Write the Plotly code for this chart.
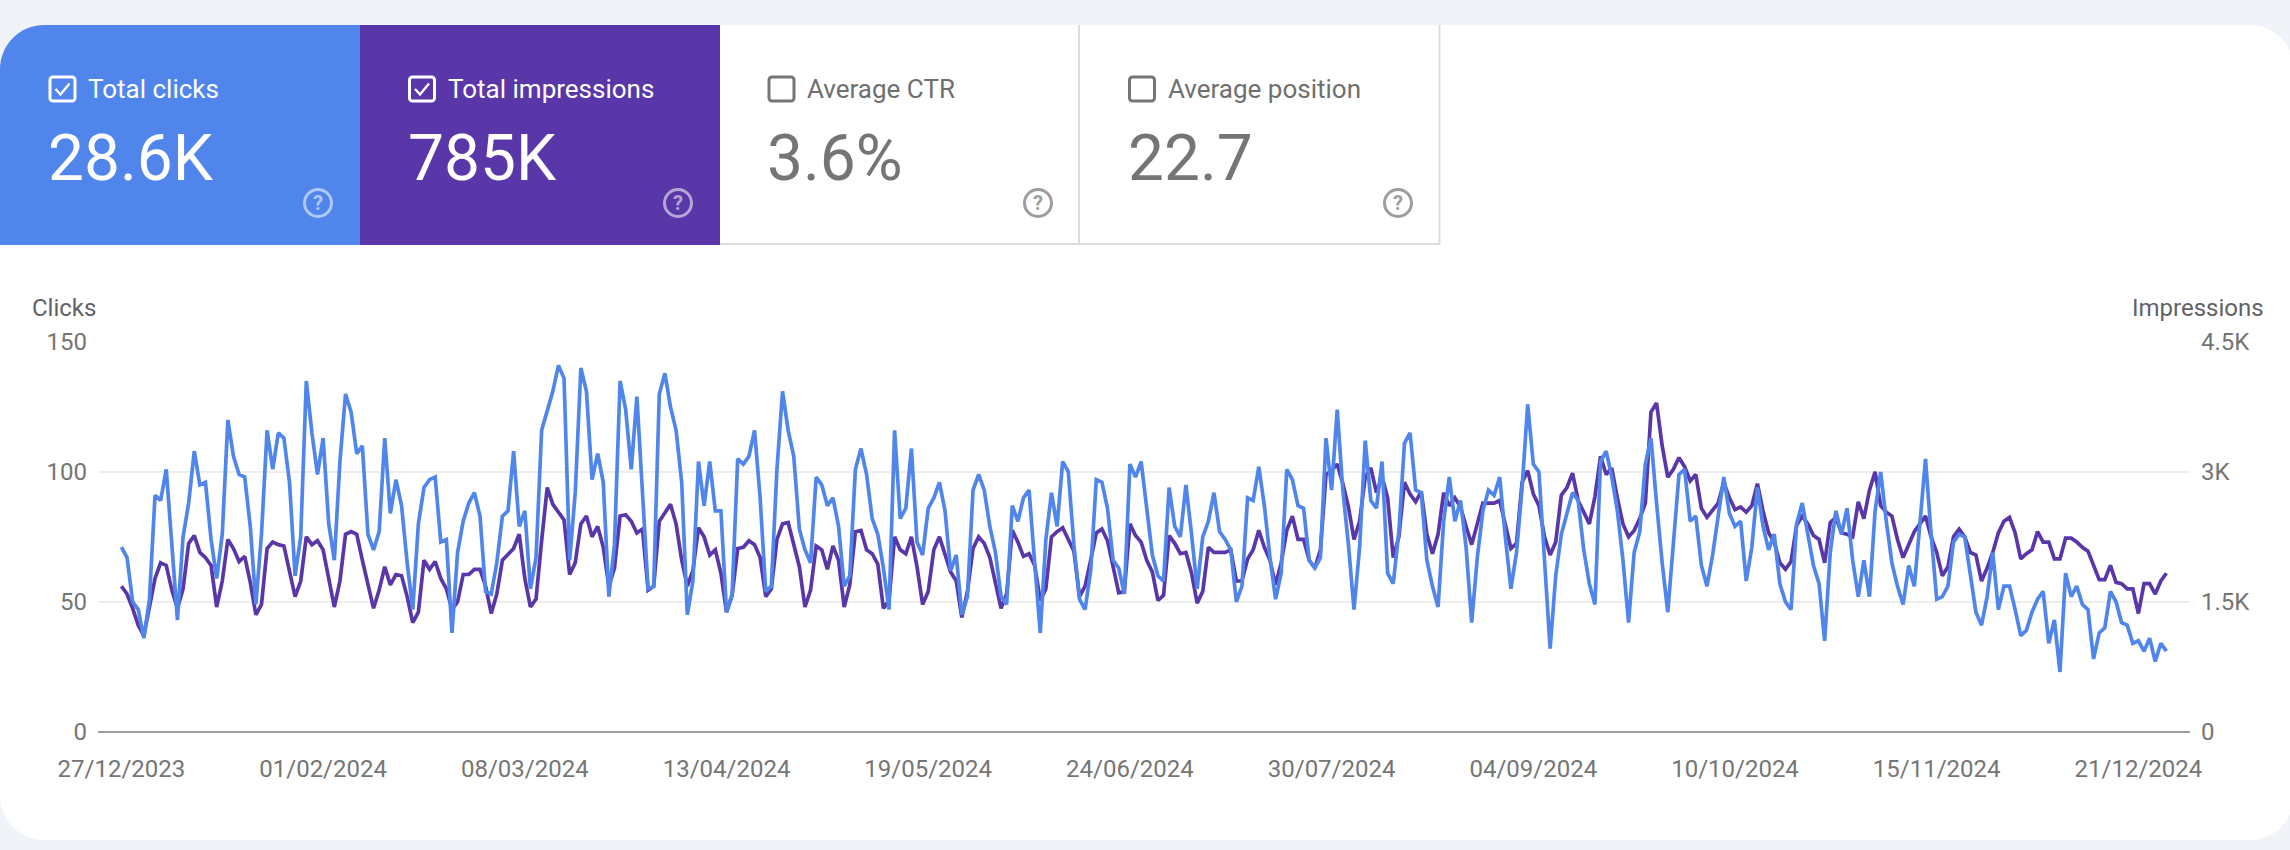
import plotly.graph_objects as go
import pandas as pd

W, H = 2290, 850
START_DATE = "2023-12-27"
clicks = [
71,67,50,47,36,51,91,89,101,72,
43,75,88,108,95,96,74,59,76,120,
106,99,98,79,49,76,116,101,115,113,
96,60,75,135,115,99,113,80,66,104,
130,123,107,110,76,70,77,113,84,97,
87,65,47,80,94,97,98,73,74,38,
69,81,88,92,83,54,53,65,83,85,
108,79,85,55,67,116,123,131,141,136,
66,92,140,131,97,107,96,52,72,135,
124,101,129,90,55,56,130,138,125,116,
96,45,58,104,87,104,85,85,46,53,
105,103,106,116,90,54,56,101,131,116,
106,78,70,65,98,95,87,90,79,56,
60,101,109,99,82,76,63,47,116,82,
86,109,73,68,86,90,96,85,62,68,
45,52,93,99,93,79,69,52,49,87,
81,90,93,65,38,74,92,79,104,100,
72,51,47,62,97,96,86,66,63,53,
103,98,104,86,68,60,58,94,79,75,
95,76,55,75,81,92,77,74,70,50,
56,90,89,102,87,67,51,61,101,97,
87,86,66,63,67,113,93,124,93,72,
47,71,112,89,86,104,61,57,77,111,
115,93,92,66,56,48,81,98,81,89,
71,42,67,85,93,91,98,75,55,69,
94,126,103,100,65,32,60,76,84,92,
89,70,57,49,104,108,98,85,66,42,
69,77,103,113,88,65,46,72,99,101,
81,83,64,56,68,83,98,84,79,81,
58,71,94,79,70,76,57,50,47,80,
88,76,64,57,35,69,85,76,86,66,
52,66,52,85,100,81,65,56,49,64,
56,80,105,76,51,52,56,73,76,75,
61,46,41,52,69,47,56,56,47,37,
39,46,51,54,34,43,23,61,52,56,
49,47,28,38,40,54,50,42,41,34,
35,31,36,27,34,31,
]
impressions = [
1680,1590,1425,1230,1110,1425,1770,1950,1920,1635,
1425,1650,2175,2265,2070,2010,1920,1440,1740,2220,
2115,1965,2025,1725,1350,1470,2115,2190,2160,2145,
1845,1560,1740,2250,2160,2205,2100,1785,1440,1740,
2280,2310,2280,1980,1680,1425,1635,1905,1695,1815,
1800,1560,1260,1380,1980,1875,1965,1770,1650,1410,
1500,1815,1815,1875,1875,1680,1365,1590,1980,2055,
2115,2280,1770,1440,1530,2205,2820,2625,2535,2445,
1815,1950,2400,2490,2250,2370,2130,1680,1890,2490,
2505,2430,2295,2340,1635,1680,2430,2535,2625,2400,
1980,1680,1860,2355,2250,2040,2100,1830,1380,1575,
2115,2130,2205,2160,2010,1560,1650,2220,2400,2415,
2160,1905,1440,1635,2145,2100,1875,2145,1980,1440,
1695,2310,2325,2100,2055,1935,1425,1515,2250,2100,
2055,2250,1905,1470,1620,2100,2250,2055,1845,1740,
1320,1620,2115,2250,2175,2010,1740,1425,1590,2325,
2190,2025,2055,1920,1515,1650,2250,2310,2355,2220,
2085,1560,1680,1980,2295,2340,2205,1905,1605,1620,
2400,2265,2190,1980,1845,1515,1575,2265,2175,2055,
2070,1830,1485,1620,2130,2070,2070,2070,2100,1740,
1740,1995,2100,2325,2130,1980,1695,1950,2325,2490,
2220,2220,1980,1890,2100,2970,3015,3090,2865,2595,
2220,2430,2940,3045,2760,2940,2700,2010,2250,2880,
2745,2655,2775,2280,2055,2280,2760,2610,2700,2595,
2370,2160,2400,2640,2640,2640,2670,2370,2115,2175,
2880,3015,2745,2610,2250,2040,2190,2730,2820,2985,
2670,2535,2400,2715,3180,2970,3045,2700,2400,2250,
2325,2460,2640,3690,3795,3300,2940,3030,3165,3060,
2895,2970,2580,2475,2565,2640,2880,2700,2565,2595,
2535,2610,2865,2550,2295,2190,1950,1875,1965,2385,
2490,2400,2265,2220,1950,2415,2475,2295,2280,2250,
2655,2460,2790,3000,2610,2535,2490,2220,2010,2160,
2310,2400,2490,2250,2070,1800,1905,2250,2340,2250,
2070,2040,1740,1890,2070,2295,2430,2475,2295,1995,
2055,2100,2310,2190,2190,1995,1995,2235,2235,2190,
2130,2085,1920,1755,1755,1920,1725,1710,1650,1650,
1365,1710,1710,1590,1740,1830,
]
date_ticks = ["2023-12-27","2024-02-01","2024-03-08","2024-04-13","2024-05-19","2024-06-24",
              "2024-07-30","2024-09-04","2024-10-10","2024-11-15","2024-12-21"]
date_labels = ["27/12/2023","01/02/2024","08/03/2024","13/04/2024","19/05/2024","24/06/2024",
               "30/07/2024","04/09/2024","10/10/2024","15/11/2024","21/12/2024"]
click_ticks = [0, 50, 100, 150]
click_labels = ["0", "50", "100", "150"]
imp_ticks = [0, 1500, 3000, 4500]
imp_labels = ["0", "1.5K", "3K", "4.5K"]
tile_labels = ["Total clicks", "Total impressions", "Average CTR", "Average position"]
tile_values = ["28.6K", "785K", "3.6%", "22.7"]
tile_active = [True, True, False, False]

BLUE = "#5086ec"; PURPLE = "#5937a8"; PAGE = "#f0f4f9"; GREY = "#757575"; FONT = "Roboto"
dates = pd.date_range(START_DATE, periods=len(clicks), freq="D")

px = lambda x: x / W
py = lambda y: 1 - y / H

def rounded(x0, y0, x1, y1, tl=0, tr=0, br=0, bl=0):
    k = 0.45
    s = f"M{px(x0+tl)},{py(y0)} L{px(x1-tr)},{py(y0)} "
    if tr: s += f"C{px(x1-tr*k)},{py(y0)} {px(x1)},{py(y0+tr*k)} {px(x1)},{py(y0+tr)} "
    s += f"L{px(x1)},{py(y1-br)} "
    if br: s += f"C{px(x1)},{py(y1-br*k)} {px(x1-br*k)},{py(y1)} {px(x1-br)},{py(y1)} "
    s += f"L{px(x0+bl)},{py(y1)} "
    if bl: s += f"C{px(x0+bl*k)},{py(y1)} {px(x0)},{py(y1-bl*k)} {px(x0)},{py(y1-bl)} "
    s += f"L{px(x0)},{py(y0+tl)} "
    if tl: s += f"C{px(x0)},{py(y0+tl*k)} {px(x0+tl*k)},{py(y0)} {px(x0+tl)},{py(y0)} "
    return s + "Z"

shapes = []
def pshape(d, fill=None, line=None, lw=0, opacity=1, layer="below"):
    shapes.append(dict(type="path", path=d, xref="paper", yref="paper", fillcolor=fill or "rgba(0,0,0,0)",
                       line=dict(color=line or "rgba(0,0,0,0)", width=lw), opacity=opacity, layer=layer))

TOP, TILE_BOTTOM, BOTTOM, R = 25, 245, 840, 44
pshape(rounded(0, TOP, W + 4, BOTTOM, R, R, R, R), fill="#ffffff")
pshape(rounded(0, TOP, 360, TILE_BOTTOM, tl=R), fill=BLUE)
pshape(rounded(360, TOP, 720, TILE_BOTTOM), fill=PURPLE)
pshape(f"M{px(1079)},{py(TOP)} L{px(1079)},{py(TILE_BOTTOM)}", line="#dadce0", lw=2)
pshape(f"M{px(1439.5)},{py(TOP)} L{px(1439.5)},{py(TILE_BOTTOM)}", line="#dadce0", lw=2)
pshape(f"M{px(720)},{py(244)} L{px(1440)},{py(244)}", line="#dadce0", lw=2)

annotations = []
def text(x, y, s, size, color, anchor="left"):
    annotations.append(dict(x=px(x), y=py(y), xref="paper", yref="paper", text=s, showarrow=False,
                            xanchor=anchor, yanchor="middle", borderpad=0, borderwidth=0,
                            font=dict(family=FONT, size=size, color=color)))

tile_left = [49, 408.5, 768, 1128.5]
help_x = [318, 678, 1038, 1398]
for i, (lab, val, on) in enumerate(zip(tile_labels, tile_values, tile_active)):
    x = tile_left[i]
    col = "#ffffff" if on else GREY
    text(x + 39, 89, lab, 26, "#ffffff" if on else "#6f6f6f")
    text(x - 1, 158, val, 64, col)
    pshape(rounded(x + 1, 77, x + 26, 101, 3, 3, 3, 3), line=col, lw=3, layer="above")
    if on:
        pshape(f"M{px(x+6.5)},{py(89)} L{px(x+11.5)},{py(94.5)} L{px(x+20.5)},{py(83.5)}", line="#ffffff", lw=2.4, layer="above")
    cx, cy, r = help_x[i], 203, 13.5
    hcol = "#ffffff" if on else "#757575"
    shapes.append(dict(type="circle", xref="paper", yref="paper", x0=px(cx-r), x1=px(cx+r), y0=py(cy-r), y1=py(cy+r),
                       line=dict(color=hcol, width=3), fillcolor="rgba(0,0,0,0)", opacity=0.7 if not on else 0.55, layer="above"))
    annotations.append(dict(x=px(cx), y=py(cy), xref="paper", yref="paper", text="<b>?</b>", showarrow=False, opacity=0.7 if not on else 0.55,
                            font=dict(family=FONT, size=20, color=hcol), xanchor="center", yanchor="middle"))

text(32, 308, "Clicks", 24, "#5f6368")
text(2264, 308, "Impressions", 24, "#5f6368", anchor="right")

fig = go.Figure()
fig.add_trace(go.Scatter(x=dates, y=impressions, mode="lines", yaxis="y", name="Impressions",
                         line=dict(color=PURPLE, width=3.7), hoverinfo="skip"))
fig.add_trace(go.Scatter(x=dates, y=clicks, mode="lines", yaxis="y2", name="Clicks",
                         line=dict(color=BLUE, width=3.7), hoverinfo="skip"))

PLOT_L, PLOT_R, PLOT_T, PLOT_B = 98, 2190, 342, 731.7
tickfont = dict(family=FONT, size=24, color=GREY)
fig.update_layout(
    width=W, height=H, autosize=False, showlegend=False, template="none",
    margin=dict(l=0, r=0, t=0, b=0, pad=0),
    paper_bgcolor=PAGE, plot_bgcolor="rgba(0,0,0,0)",
    xaxis=dict(domain=[px(PLOT_L), px(PLOT_R)], type="date", automargin=False,
               range=["2023-12-22 19:40", "2024-12-30 05:00"],
               tickmode="array", tickvals=date_ticks, ticktext=date_labels,
               tickfont=tickfont, showgrid=False, showline=False, zeroline=False, ticks="", ticklabelstandoff=20),
    yaxis=dict(domain=[py(PLOT_B), py(PLOT_T)], range=[0, 4500], side="right", automargin=False,
               tickmode="array", tickvals=imp_ticks, ticktext=imp_labels, tickfont=tickfont,
               showgrid=True, gridcolor="#eeeeee", gridwidth=2, zeroline=True, zerolinecolor="#9e9e9e", zerolinewidth=2,
               showline=False, ticks="", ticklabelstandoff=10),
    yaxis2=dict(domain=[py(PLOT_B), py(PLOT_T)], range=[0, 150], side="left", overlaying="y", anchor="x", automargin=False,
                tickmode="array", tickvals=click_ticks, ticktext=click_labels, tickfont=tickfont,
                showgrid=False, zeroline=False, showline=False, ticks="", ticklabelstandoff=10),
    shapes=shapes, annotations=annotations,
)
fig.write_html("out.html", config={"displayModeBar": False},
               post_script="document.body.style.margin='0';document.body.style.overflow='hidden';")
